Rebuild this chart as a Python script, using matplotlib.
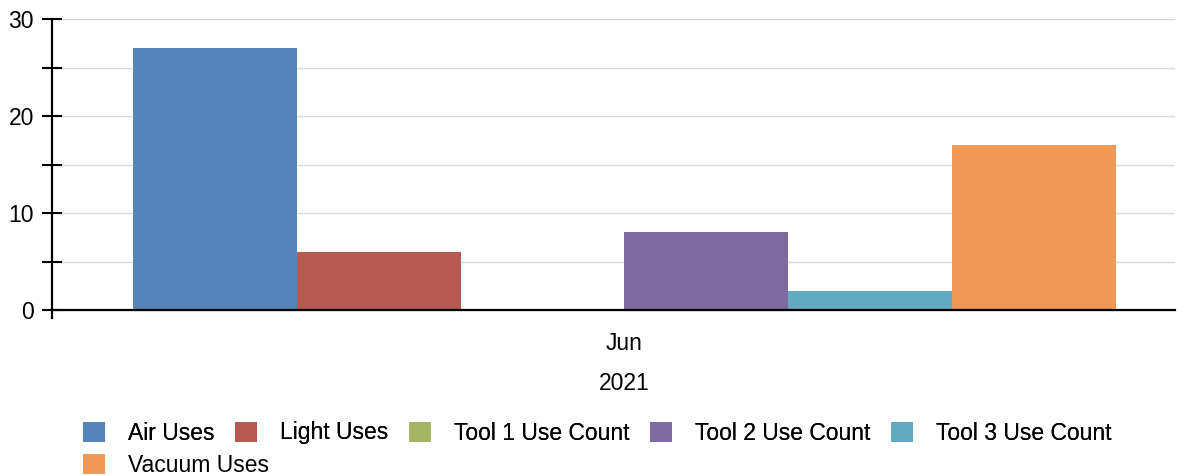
import matplotlib
matplotlib.use("Agg")
import matplotlib.pyplot as plt
from matplotlib.ticker import MultipleLocator

plt.rcParams['font.family'] = ['Liberation Sans', 'DejaVu Sans']

category = "Jun"
year_label = "2021"
series = ["Air Uses", "Light Uses", "Tool 1 Use Count", "Tool 2 Use Count",
          "Tool 3 Use Count", "Vacuum Uses"]
values = [27, 6, 0, 8, 2, 17]
colors = ["#5585BB", "#B55A52", "#A5B764", "#7E6AA0", "#62A9C2", "#EE9958"]

FS = 16.5
W, H = 1191, 475
fig = plt.figure(figsize=(W / 100, H / 100), dpi=100)
# axes: left spine at x=52, right at 1175, top (30) at y=19, bottom at y=318
ax = fig.add_axes([52 / W, 1 - 318 / H, (1175 - 52) / W, (318 - 19) / H])

n = len(series)
handles = []
for i, (name, v, c) in enumerate(zip(series, values, colors)):
    b = ax.bar(i - (n - 1) / 2, v, width=1.0, color=c, label=name, zorder=3)
    handles.append(b)

ax.set_xlim(-3.494, 3.361)
ax.set_ylim(-0.82, 30)
ax.spines['top'].set_visible(False)
ax.spines['right'].set_visible(False)
ax.spines['bottom'].set_position(('data', 0))
ax.spines['bottom'].set_linewidth(1.6)
ax.spines['left'].set_linewidth(1.6)
ax.spines['bottom'].set_zorder(4)

ax.yaxis.set_major_locator(MultipleLocator(10))
ax.yaxis.set_minor_locator(MultipleLocator(5))
ax.tick_params(axis='y', which='both', direction='inout', length=14, width=1.5,
               labelsize=FS, pad=6)
ax.grid(axis='y', which='both', color='#d9d9d9', linewidth=1, zorder=0)
ax.set_axisbelow(True)

ax.set_xticks([0])
ax.set_xticklabels([category])
ax.tick_params(axis='x', length=0, labelsize=FS, pad=16)
ax.set_xlabel(year_label, fontsize=FS)
ax.xaxis.set_label_coords((624 - 52) / (1175 - 52), (318 - 383) / (318 - 19))
ax.xaxis.label.set_va('center')

common = dict(frameon=False, fontsize=FS, handlelength=0.96, handleheight=0.96,
              handletextpad=1.0, borderpad=0, borderaxespad=0)
leg1 = fig.legend(handles[:5], series[:5], ncol=5, loc='center left',
                  bbox_to_anchor=(83 / W, 1 - 433 / H), columnspacing=0.9,
                  **common)
leg2 = fig.legend(handles[5:], series[5:], ncol=1, loc='center left',
                  bbox_to_anchor=(83 / W, 1 - 465 / H), **common)
fig.add_artist(leg1)

fig.savefig("out.png", dpi=100)
